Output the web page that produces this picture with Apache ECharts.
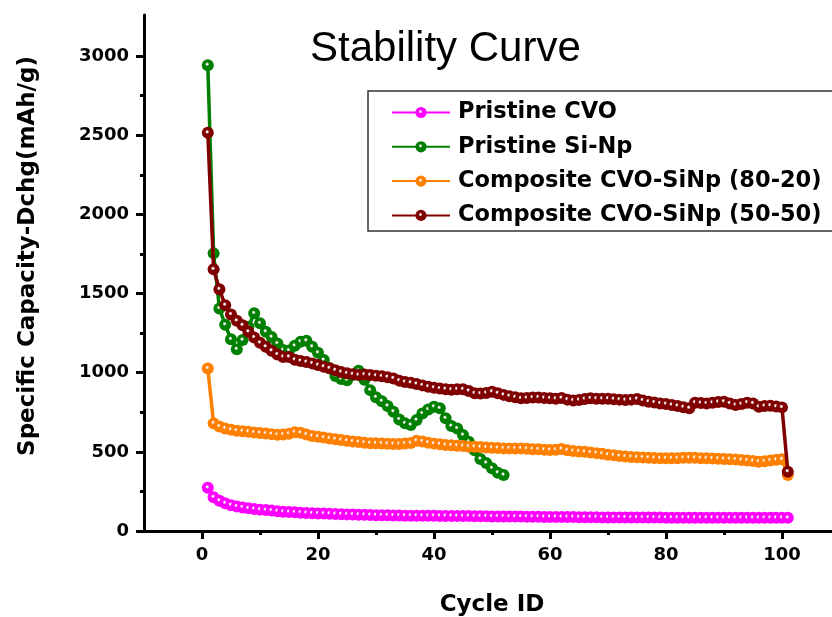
<!DOCTYPE html>
<html>
<head>
<meta charset="utf-8">
<script src="https://cdn.jsdelivr.net/npm/echarts@6/dist/echarts.min.js"></script>
<style>html,body{margin:0;padding:0;background:#fff;}#c{width:832px;height:617px;}</style>
</head>
<body>
<div id="c"></div>
<script>
var seriesNames = ['Pristine CVO', 'Pristine Si-Np', 'Composite CVO-SiNp (80-20)', 'Composite CVO-SiNp (50-50)'];
var seriesColors = ['#ff00ff', '#008000', '#ff8000', '#800000'];

var pristineCVO = [273,213,191,175,163,155,149,143,139,135,132,129,125,122,120,118,116,114,112,111,
  110,109,107,106,105,104,103,102,101,100,99,99,98,98,97,97,97,96,96,96,
  95,95,95,94,94,94,93,93,93,92,92,92,91,91,91,90,90,90,89,89,
  89,88,88,88,87,87,87,87,86,86,86,86,86,85,85,85,85,85,85,84,
  84,84,84,84,84,84,84,84,83,83,83,83,83,83,83,83,83,83,83,83,83];
var pristineSiNp = [2943,1754,1406,1303,1211,1148,1206,1290,1375,1312,1259,1225,1185,1143,1140,1170,1196,1202,1164,1126,
  1080,1028,980,960,953,985,1012,955,890,845,820,790,754,705,680,670,701,743,768,785,
  775,712,663,648,606,564,510,455,430,396,368,354];
var composite8020 = [1027,680,660,648,640,634,630,627,622,619,616,612,608,610,615,624,620,610,600,596,
  590,585,580,575,570,566,562,558,555,554,553,551,549,550,553,556,570,566,558,552,
  548,543,541,539,537,533,532,530,528,526,524,522,522,521,522,519,517,516,514,512,
  514,518,510,505,503,500,496,492,488,482,478,474,470,468,466,465,463,461,459,459,
  459,460,462,463,462,460,459,458,457,455,454,452,449,446,442,438,440,446,450,453,354];
var composite5050 = [2516,1653,1527,1427,1368,1328,1300,1259,1223,1189,1164,1139,1115,1100,1100,1082,1074,1067,1059,1048,
  1038,1028,1015,1004,996,990,985,988,985,981,977,972,964,950,941,937,929,920,912,905,
  900,896,893,895,895,885,870,868,872,880,870,860,852,845,838,840,843,844,840,838,
  836,840,830,825,828,834,838,836,835,836,833,830,827,830,834,825,817,812,806,802,
  796,790,782,776,811,808,806,810,815,817,806,796,802,811,806,785,790,792,786,781,375];
var seriesValues = [pristineCVO, pristineSiNp, composite8020, composite5050];

var xTickLabels = [0, 20, 40, 60, 80, 100];
var xMinorTicks = [10, 30, 50, 70, 90];
var yTickLabels = [0, 500, 1000, 1500, 2000, 2500, 3000];
var yMinorTicks = [250, 750, 1250, 1750, 2250, 2750];

function toPairs(arr) {
  var out = [];
  for (var i = 0; i < arr.length; i++) out.push([i + 1, arr[i]]);
  return out;
}
function glossy(c) {
  return {type: 'radial', x: 0.45, y: 0.42, r: 0.55,
    colorStops: [{offset: 0, color: '#ffffff'}, {offset: 0.12, color: '#f4ecf0'},
                 {offset: 0.32, color: c}, {offset: 1, color: c}]};
}
function plain(v) { return String(v); }

var boldFont = '"DejaVu Sans", sans-serif';
var chart = echarts.init(document.getElementById('c'), null, {renderer: 'canvas'});
var series = seriesNames.map(function (n, i) {
  return {
    name: n, type: 'line', data: toPairs(seriesValues[i]),
    xAxisIndex: 0, yAxisIndex: 0,
    symbol: 'circle', symbolSize: 12, showAllSymbol: true,
    lineStyle: {color: seriesColors[i], width: 3.5},
    itemStyle: {color: glossy(seriesColors[i]), borderWidth: 0},
    emphasis: {disabled: true}, animation: false, z: 2 + i
  };
});

chart.setOption({
  animation: false,
  backgroundColor: '#ffffff',
  title: {
    text: 'Stability Curve', left: 305, top: 23,
    textStyle: {fontFamily: '"Liberation Sans", Arial, sans-serif', fontWeight: 'normal', fontSize: 42, color: '#000'}
  },
  legend: {
    orient: 'vertical', left: 368, top: 91,
    padding: [10, 80, 4, 23], itemGap: 11.3,
    itemWidth: 58, itemHeight: 14,
    borderColor: '#333', borderWidth: 1.5,
    textStyle: {fontFamily: boldFont, fontWeight: 'bold', fontSize: 22.5, color: '#000', padding: [0, 0, 0, 3], lineHeight: 22},
    data: seriesNames
  },
  grid: {left: 144, right: -8, top: 15, bottom: 86, containLabel: false, outerBoundsMode: 'none'},
  xAxis: [{
    type: 'value', min: -10, max: 110, splitLine: {show: false},
    name: 'Cycle ID', nameLocation: 'middle', nameGap: 63,
    nameTextStyle: {fontFamily: boldFont, fontWeight: 'bold', fontSize: 23, color: '#000'},
    axisLine: {show: true, onZero: false, lineStyle: {color: '#000', width: 3}},
    axisTick: {show: true, inside: false, length: 8, lineStyle: {color: '#000', width: 3}, customValues: xTickLabels},
    axisLabel: {show: true, margin: 15, formatter: plain, fontFamily: boldFont, fontWeight: 'bold', fontSize: 18, color: '#000', customValues: xTickLabels}
  }, {
    type: 'value', min: -10, max: 110, position: 'bottom', splitLine: {show: false},
    axisLine: {show: false, onZero: false},
    axisTick: {show: true, inside: false, length: 4, lineStyle: {color: '#000', width: 3}, customValues: xMinorTicks},
    axisLabel: {show: false}
  }],
  yAxis: [{
    type: 'value', min: 0, max: 3260, splitLine: {show: false},
    name: 'Specific Capacity-Dchg(mAh/g)', nameLocation: 'middle', nameGap: 104,
    nameTextStyle: {fontFamily: boldFont, fontWeight: 'bold', fontSize: 23, color: '#000', padding: [0, 0, 0, 34]},
    axisLine: {show: true, onZero: false, lineStyle: {color: '#000', width: 3}},
    axisTick: {show: true, inside: false, length: 8, lineStyle: {color: '#000', width: 3}, customValues: yTickLabels},
    axisLabel: {show: true, margin: 15, formatter: plain, fontFamily: boldFont, fontWeight: 'bold', fontSize: 18, color: '#000', customValues: yTickLabels}
  }, {
    type: 'value', min: 0, max: 3260, position: 'left', splitLine: {show: false},
    axisLine: {show: false, onZero: false},
    axisTick: {show: true, inside: false, length: 4, lineStyle: {color: '#000', width: 3}, customValues: yMinorTicks},
    axisLabel: {show: false}
  }],
  series: series
});
</script>
</body>
</html>
